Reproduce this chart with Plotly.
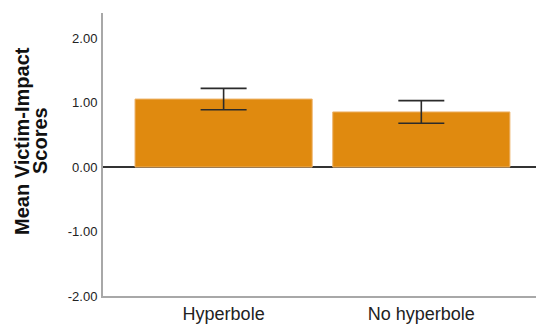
import plotly.graph_objects as go

categories = ["Hyperbole", "No hyperbole"]
means = [1.055, 0.855]
errors = [0.165, 0.175]
y_ticks = [-2, -1, 0, 1, 2]
y_tick_labels = ["-2.00", "-1.00", "0.00", "1.00", "2.00"]
title_lines = ["Mean Victim-Impact", "Scores"]

fig = go.Figure()
fig.add_trace(go.Bar(
    x=categories, y=means, width=0.896,
    marker=dict(color="#E08A0F", line=dict(color="#EDB36A", width=1)),
    error_y=dict(type="data", array=errors, visible=True, color="#2b2b2b", thickness=1.6, width=23),
    hoverinfo="skip",
))

W, H = 536, 331
L, T, PH = 103, 13, 283
fig.update_layout(
    width=W, height=H,
    margin=dict(l=L, r=0, t=T, b=H - T - PH),
    paper_bgcolor="white", plot_bgcolor="white",
    showlegend=False,
    font=dict(family="Liberation Sans, Arial, sans-serif", color="#222"),
    xaxis=dict(range=[-0.61, 1.58], showline=True, linecolor="#A8A8A8", linewidth=2,
               ticks="", tickfont=dict(size=18, color="#222"), showgrid=False, fixedrange=True),
    yaxis=dict(range=[-2, 2.39], tickvals=y_ticks, ticktext=y_tick_labels,
               showline=True, linecolor="#A8A8A8", linewidth=2, ticks="",
               showgrid=False, zeroline=True, zerolinecolor="#333", zerolinewidth=1.6,
               tickfont=dict(size=13, color="#222"), ticklabelstandoff=1, fixedrange=True),
)

# y-axis title, two rotated lines
ycen = (T + PH - 141) / PH
for txt, xs in zip(title_lines, [-81, -63]):
    fig.add_annotation(text="<b>%s</b>" % txt, xref="paper", yref="paper", x=0, y=ycen,
                       xanchor="center", yanchor="middle", xshift=xs, textangle=-90,
                       showarrow=False, font=dict(size=20, color="#111"))

fig.write_html("out.html", config={"displayModeBar": False},
               post_script="document.body.style.margin='0';")
